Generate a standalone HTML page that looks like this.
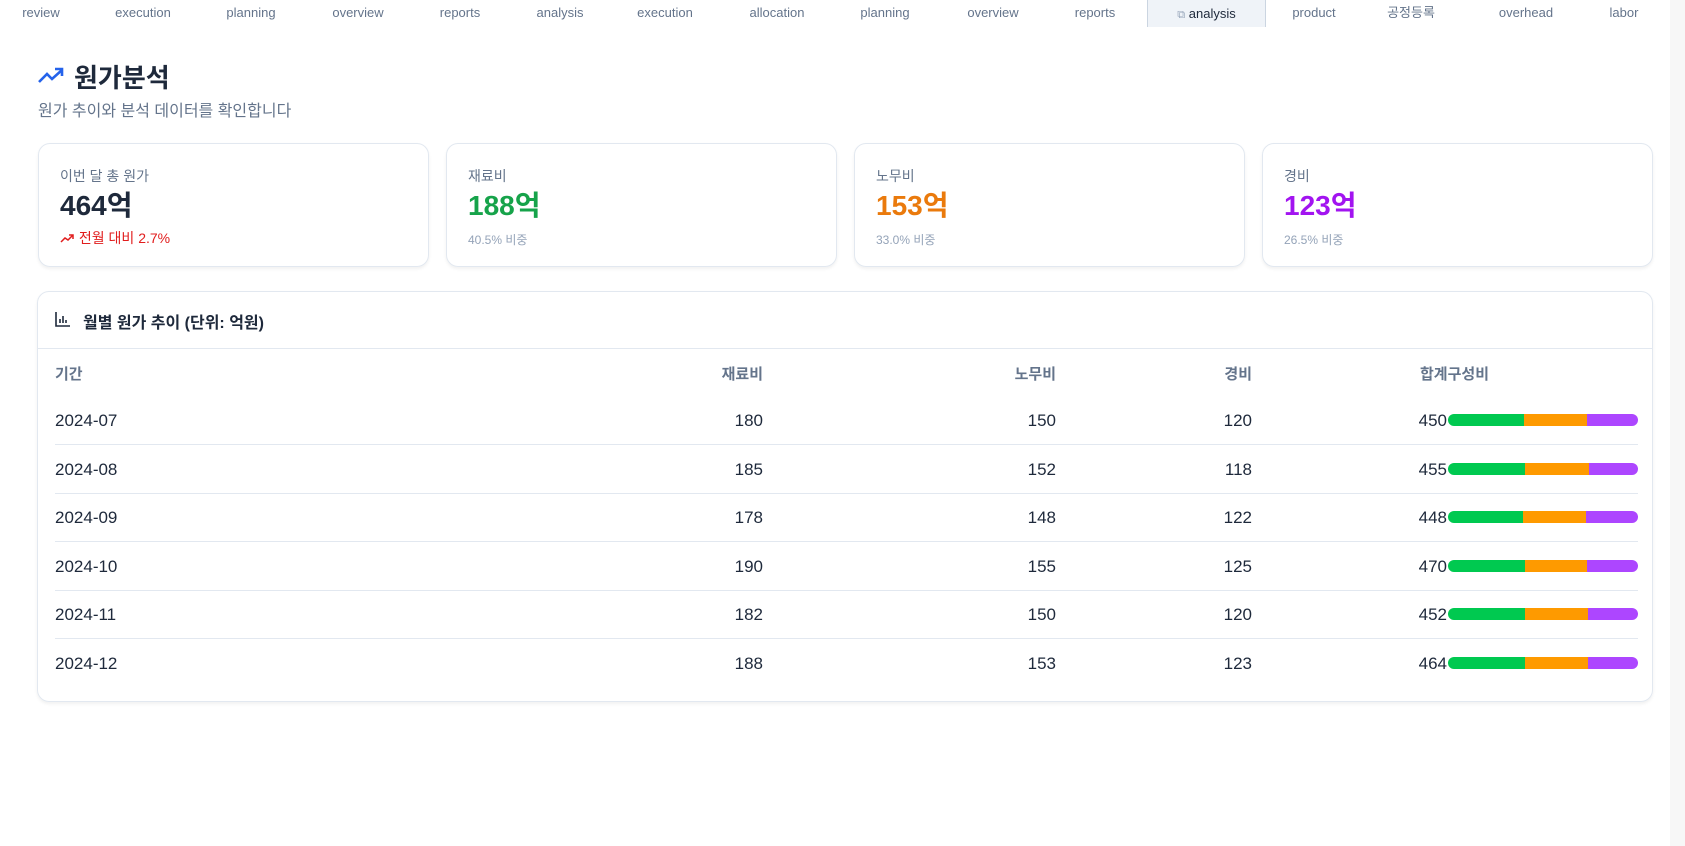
<!DOCTYPE html>
<html><head><meta charset="utf-8"><style>
*{box-sizing:border-box;margin:0;padding:0}
body{width:1685px;height:846px;background:#fff;font-family:"Liberation Sans","Noto Sans CJK KR",sans-serif;position:relative;overflow:hidden;color:#1e293b}
.sb{position:absolute;right:0;top:0;width:15px;height:846px;background:#f7f7f7}
.tab{position:absolute;top:0;height:27px;line-height:26px;font-size:13px;color:#64748b;transform:translateX(-50%);white-space:nowrap}
.act{position:absolute;left:1147px;top:0;width:119px;height:27px;background:#eff3f8;border-left:1px solid #cbd5e1;border-right:1px solid #cbd5e1;text-align:center;line-height:27px;font-size:13px;color:#1e293b}
.card{position:absolute;top:143px;width:391px;height:124px;border:1px solid #e2e8f0;border-radius:12px;box-shadow:0 2px 3px rgba(0,0,0,.06);padding:20px 21px}
.lbl{font-size:14px;color:#64748b;margin-top:2px}
.val{font-size:28px;font-weight:bold;margin-top:4px;line-height:32px}
.sub{font-size:12px;color:#94a3b8;margin-top:9px}
.t{position:absolute;font-size:17px;line-height:20px}
.r{text-align:right}
.h{font-size:15px;font-weight:bold;color:#64748b}
.line{position:absolute;left:55px;width:1583px;height:1px;background:#e2e8f0}
.bar{position:absolute;left:1448px;width:190px;height:12px;border-radius:6px;overflow:hidden;display:flex}
</style></head><body>
<div class="sb"></div>
<div class="tab" style="left:41px">review</div>
<div class="tab" style="left:143px">execution</div>
<div class="tab" style="left:251px">planning</div>
<div class="tab" style="left:358px">overview</div>
<div class="tab" style="left:460px">reports</div>
<div class="tab" style="left:560px">analysis</div>
<div class="tab" style="left:665px">execution</div>
<div class="tab" style="left:777px">allocation</div>
<div class="tab" style="left:885px">planning</div>
<div class="tab" style="left:993px">overview</div>
<div class="tab" style="left:1095px">reports</div>
<div class="act"><span style="color:#94a3b8;font-size:11px">⧉</span> analysis</div>
<div class="tab" style="left:1314px">product</div>
<div class="tab" style="left:1411px">공정등록</div>
<div class="tab" style="left:1526px">overhead</div>
<div class="tab" style="left:1624px">labor</div>

<svg style="position:absolute;left:37px;top:66px" width="28" height="20" viewBox="0 0 28 20"><polyline points="2,16 10,8 15,13 25,4" fill="none" stroke="#2563eb" stroke-width="2.6"/><polyline points="18,3 25,3 25,10" fill="none" stroke="#2563eb" stroke-width="2.6"/></svg>
<div style="position:absolute;left:74px;top:58px;font-size:26px;font-weight:bold;color:#1e293b">원가분석</div>
<div style="position:absolute;left:38px;top:97px;font-size:16px;color:#64748b">원가 추이와 분석 데이터를 확인합니다</div>

<div class="card" style="left:38px"><div class="lbl">이번 달 총 원가</div><div class="val" style="color:#1e293b">464억</div><div style="font-size:14px;color:#e11d1d;margin-top:6px"><svg width="15" height="10" viewBox="0 0 15 10"><polyline points="1,9 5,5 8,7 13,2" fill="none" stroke="#e11d1d" stroke-width="1.5"/><polyline points="9,2 13,2 13,6" fill="none" stroke="#e11d1d" stroke-width="1.5"/></svg> 전월 대비 2.7%</div></div>
<div class="card" style="left:446px"><div class="lbl">재료비</div><div class="val" style="color:#16a34a">188억</div><div class="sub">40.5% 비중</div></div>
<div class="card" style="left:854px"><div class="lbl">노무비</div><div class="val" style="color:#ea7a0c">153억</div><div class="sub">33.0% 비중</div></div>
<div class="card" style="left:1262px"><div class="lbl">경비</div><div class="val" style="color:#a214f0">123억</div><div class="sub">26.5% 비중</div></div>

<div style="position:absolute;left:37px;top:291px;width:1616px;height:411px;border:1px solid #e2e8f0;border-radius:12px;box-shadow:0 2px 3px rgba(0,0,0,.06)"></div>
<div style="position:absolute;left:38px;top:348px;width:1614px;height:1px;background:#e2e8f0"></div>
<svg style="position:absolute;left:55px;top:311px" width="16" height="16" viewBox="0 0 16 16"><path d="M1 1V15H15M5 12V8M8 12V5M11 12V9" stroke="#1e293b" stroke-width="1.6" fill="none"/></svg>
<div style="position:absolute;left:83px;top:309px;font-size:16px;font-weight:bold;color:#1e293b">월별 원가 추이 (단위: 억원)</div>

<div class="t h" style="left:55px;top:365px">기간</div>
<div class="t h r" style="left:663px;width:100px;top:365px">재료비</div>
<div class="t h r" style="left:956px;width:100px;top:365px">노무비</div>
<div class="t h r" style="left:1152px;width:100px;top:365px">경비</div>
<div class="t h" style="left:1420px;top:365px">합계구성비</div>

<div id="rows"></div>
<script>
var d=[["2024-07",180,150,120],["2024-08",185,152,118],["2024-09",178,148,122],["2024-10",190,155,125],["2024-11",182,150,120],["2024-12",188,153,123]];
var h="";
d.forEach(function(r,i){var y=411+i*48.5,s=r[1]+r[2]+r[3];
h+='<div class="t" style="left:55px;top:'+y+'px">'+r[0]+'</div>';
h+='<div class="t r" style="left:663px;width:100px;top:'+y+'px">'+r[1]+'</div>';
h+='<div class="t r" style="left:956px;width:100px;top:'+y+'px">'+r[2]+'</div>';
h+='<div class="t r" style="left:1152px;width:100px;top:'+y+'px">'+r[3]+'</div>';
h+='<div class="t r" style="left:1347px;width:100px;top:'+y+'px">'+s+'</div>';
h+='<div class="bar" style="top:'+(y+3)+'px"><div style="width:'+(r[1]/s*100)+'%;background:#00c950"></div><div style="width:'+(r[2]/s*100)+'%;background:#fe9a00"></div><div style="flex:1;background:#ad46ff"></div></div>';
if(i<5)h+='<div class="line" style="top:'+(y+33)+'px;width:1583px"></div>';});
document.getElementById("rows").innerHTML=h;
</script>
</body></html>
